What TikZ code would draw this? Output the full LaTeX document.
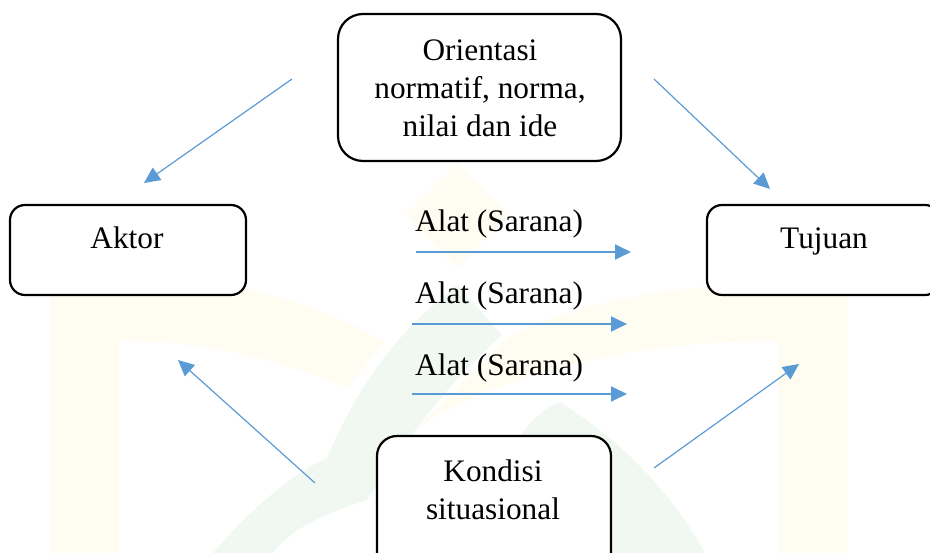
\documentclass[tikz,border=0pt]{standalone}
\usepackage{fontspec}
\setmainfont{Liberation Serif}
\usetikzlibrary{arrows.meta}
\definecolor{arrowblue}{HTML}{5B9BD5}
\definecolor{wmyellow}{HTML}{FFFDF1}
\definecolor{wmgreen}{HTML}{F1F8F1}
\begin{document}
\begin{tikzpicture}[x=1pt,y=-1pt,
  box/.style={draw=black, line width=2.2pt, rounded corners=#1, fill=white, inner sep=0pt},
  box/.default=15pt,
  txt/.style={anchor=base, inner sep=0pt, font=\fontsize{31.3}{38}\selectfont},
  conn/.style={draw=arrowblue, line width=1.2pt, -{Triangle[length=16pt,width=15pt]}},
  tool/.style={conn, line width=1.8pt}]
\useasboundingbox (0,0) rectangle (930,553);
\clip (0,0) rectangle (930,553);
% faint watermark
\fill[wmyellow] (50,553) -- (50,290) .. controls (130,284) and (200,284) .. (243,288)
  .. controls (300,300) and (345,320) .. (385,342) -- (347,388)
  .. controls (280,358) and (200,342) .. (119,340) -- (119,553) -- cycle;
\fill[wmyellow] (848,553) -- (848,285) -- (730,285)
  .. controls (640,290) and (560,310) .. (507,338) -- (415,430)
  .. controls (500,370) and (650,340) .. (778,341) -- (778,553) -- cycle;
\fill[wmyellow] (457,163) -- (509,215) -- (457,268) -- (405,215) -- cycle;
\fill[wmgreen] (213,553) .. controls (250,510) and (290,475) .. (327,458)
  .. controls (360,380) and (400,330) .. (457,285) -- (502,335)
  .. controls (440,390) and (400,450) .. (367,500)
  .. controls (320,515) and (290,530) .. (273,553) -- cycle;
\fill[wmgreen] (470,553) -- (517,440) .. controls (530,420) and (545,408) .. (560,402)
  .. controls (620,440) and (670,490) .. (705,553) -- cycle;
% boxes
\node[box=25pt, minimum width=283pt, minimum height=147pt] (ori) at (479.5,87.5) {};
\node[box, minimum width=236pt, minimum height=90pt] (aktor) at (128,250) {};
\node[box, minimum width=233pt, minimum height=90pt] (tujuan) at (823.5,250) {};
\node[box=20pt, minimum width=234pt, minimum height=144pt] (kondisi) at (494,508) {};
% texts
\node[txt] (o1) at (480,61) {Orientasi};
\node[txt] (o2) at (480,99) {normatif, norma,};
\node[txt] (o3) at (480,137) {nilai dan ide};
\node[txt] (ak) at (127,249) {Aktor};
\node[txt] (tu) at (824,249) {Tujuan};
\node[txt] (k1) at (493,482) {Kondisi};
\node[txt] (k2) at (493,519) {situasional};
\node[txt, anchor=base west] (a1) at (415,232) {Alat (Sarana)};
\node[txt, anchor=base west] (a2) at (415,304) {Alat (Sarana)};
\node[txt, anchor=base west] (a3) at (415,376) {Alat (Sarana)};
% arrow ends
\coordinate (tlS) at (292,79);  \coordinate (tlE) at (144,183);
\coordinate (trS) at (654,79);  \coordinate (trE) at (770,189);
\coordinate (blS) at (315,483); \coordinate (blE) at (178,360);
\coordinate (brS) at (654,468); \coordinate (brE) at (799,364);
\coordinate (a1S) at (416,252); \coordinate (a1E) at (631,252);
\coordinate (a2S) at (412,324); \coordinate (a2E) at (627,324);
\coordinate (a3S) at (412,394); \coordinate (a3E) at (627,394);
\draw[conn] (tlS) -- (tlE);
\draw[conn] (trS) -- (trE);
\draw[conn] (blS) -- (blE);
\draw[conn] (brS) -- (brE);
\draw[tool] (a1S) -- (a1E);
\draw[tool] (a2S) -- (a2E);
\draw[tool] (a3S) -- (a3E);
\end{tikzpicture}
\end{document}
